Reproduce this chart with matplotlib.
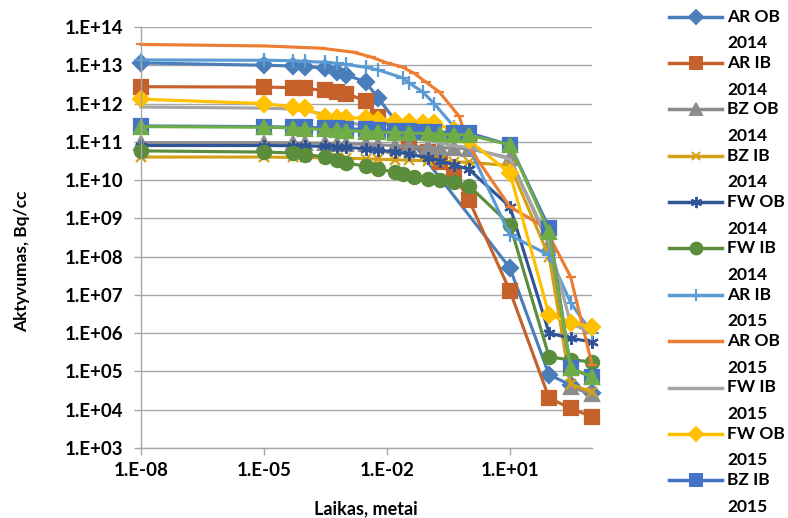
import math
import matplotlib
matplotlib.use("Agg")
import matplotlib.pyplot as plt
from matplotlib.lines import Line2D
from matplotlib.ticker import FixedLocator, FuncFormatter, NullLocator

plt.rcParams["font.family"] = ["Lato", "DejaVu Sans"]
plt.rcParams["font.weight"] = "bold"

# -----------------------------
# Data (time in years, activity in Bq/cc)
# -----------------------------
ar_ob_2014_t = [1e-8, 1e-5, 5e-5, 1e-4, 3e-4, 6e-4, 1e-3, 3e-3, 6e-3, 10, 90, 300, 1000]
ar_ob_2014_v = [1.15e13, 1.0e13, 9.6e12, 9.1e12, 8.5e12, 6.8e12, 5.6e12, 3.7e12, 1.4e12,
                5.0e7, 8.1e4, 4.5e4, 2.8e4]

ar_ib_2014_t = [1e-8, 1e-5, 5e-5, 1e-4, 3e-4, 6e-4, 1e-3, 3e-3, 6e-3, 1.6e-2, 3.4e-2,
                0.1, 0.2, 0.43, 1, 10, 90, 300, 1000]
ar_ib_2014_v = [2.75e12, 2.7e12, 2.6e12, 2.5e12, 2.2e12, 2.0e12, 1.8e12, 1.2e12, 4.5e11,
                2.0e11, 1.0e11, 5.5e10, 3.0e10, 1.35e10, 3.0e9, 1.26e7, 2.0e4, 1.1e4, 6.5e3]

grid_t = [1e-8, 1e-5, 5e-5, 1e-4, 3e-4, 6e-4, 1e-3, 3e-3, 6e-3, 1.6e-2, 3.4e-2,
          0.1, 0.2, 0.43, 1, 10, 90, 300, 1000]

bz_ob_2014_v = [9.5e10, 9.5e10, 9.4e10, 9.3e10, 9.2e10, 9.0e10, 8.9e10, 8.6e10, 8.3e10,
                8.0e10, 7.6e10, 7.2e10, 7.0e10, 6.9e10, 6.6e10, 3.8e10, 2.0e8, 4.0e4, 2.5e4]

bz_ib_2014_v = [4.0e10, 4.0e10, 3.9e10, 3.9e10, 3.8e10, 3.8e10, 3.7e10, 3.6e10, 3.5e10,
                3.4e10, 3.3e10, 3.2e10, 3.1e10, 3.0e10, 2.9e10, 2.4e10, 1.0e8, 4.7e4, 2.9e4]

fw_ob_2014_v = [8.0e10, 8.0e10, 7.9e10, 7.8e10, 7.6e10, 7.4e10, 7.2e10, 6.6e10, 6.0e10,
                5.5e10, 4.8e10, 3.8e10, 3.2e10, 2.5e10, 1.9e10, 2.0e9, 1.0e6, 7.4e5, 5.9e5]

fw_ib_2014_t = [1e-8, 1e-5, 5e-5, 1e-4, 3e-4, 6e-4, 1e-3, 3e-3, 6e-3, 1.6e-2, 2.4e-2,
                4.5e-2, 0.1, 0.2, 0.43, 1, 10, 90, 300, 1000]
fw_ib_2014_v = [5.8e10, 5.4e10, 5.1e10, 4.6e10, 4.1e10, 3.3e10, 2.8e10, 2.3e10, 1.95e10,
                1.6e10, 1.45e10, 1.2e10, 1.1e10, 1.0e10, 8.9e9, 7.1e9, 6.8e8, 2.4e5, 2.0e5, 1.8e5]

ar_ib_2015_t = [1e-8, 1e-5, 5e-5, 1e-4, 3e-4, 6e-4, 1e-3, 3e-3, 6e-3, 2.4e-2, 3.4e-2,
                7.5e-2, 0.14, 0.43, 1, 10, 90, 300, 1000]
ar_ib_2015_v = [1.38e13, 1.35e13, 1.32e13, 1.26e13, 1.2e13, 1.12e13, 1.05e13, 8.9e12, 7.6e12,
                4.7e12, 3.5e12, 2.0e12, 1.0e12, 2.5e11, 7.2e10, 3.6e8, 1.1e8, 6.3e6, 1.0e6]

ar_ob_2015_t = [1e-8, 1e-5, 2.4e-4, 1.5e-3, 4e-3, 1e-2, 2.3e-2, 4.6e-2, 8.7e-2, 0.19,
                0.58, 1, 10, 70, 300, 1000]
ar_ob_2015_v = [3.5e13, 3.2e13, 2.8e13, 2.2e13, 1.66e13, 1.15e13, 9.1e12, 6.2e12, 3.7e12,
                2.0e12, 4.6e11, 7.2e10, 2.0e9, 5.9e8, 3.0e7, 1.5e5]

fw_ib_2015_t = [1e-8, 1e-5, 5e-5, 1e-4, 3e-4, 1e-3, 3e-3, 1e-2, 4.6e-2, 0.14, 0.43, 1,
                10, 90, 300, 1000]
fw_ib_2015_v = [8.1e11, 7.6e11, 7.2e11, 6.6e11, 5.2e11, 3.5e11, 2.5e11, 1.8e11, 1.26e11,
                1.0e11, 7.9e10, 7.1e10, 3.5e10, 2.5e8, 1.8e6, 1.0e6]

fw_ob_2015_t = [1e-8, 1e-5, 5e-5, 1e-4, 3e-4, 6e-4, 1e-3, 3e-3, 6e-3, 1.6e-2, 3.4e-2,
                7.5e-2, 0.14, 0.43, 1, 10, 90, 300, 1000]
fw_ob_2015_v = [1.3e12, 1.0e12, 8.1e11, 7.6e11, 4.5e11, 4.2e11, 4.2e11, 4.2e11, 3.7e11,
                3.5e11, 3.3e11, 3.1e11, 3.1e11, 2.0e11, 1.1e11, 1.5e10, 3.0e6, 1.9e6, 1.45e6]

bz_ib_2015_t = [1e-8, 1e-5, 5e-5, 1e-4, 3e-4, 6e-4, 1e-3, 3e-3, 6e-3, 1.6e-2, 3.4e-2,
                7.5e-2, 0.14, 0.43, 1, 10, 90, 300, 1000]
bz_ib_2015_v = [2.6e11, 2.5e11, 2.4e11, 2.4e11, 2.3e11, 2.3e11, 2.2e11, 2.1e11, 2.0e11,
                1.95e11, 1.9e11, 1.85e11, 1.8e11, 1.75e11, 1.7e11, 8.3e10, 5.6e8, 1.2e5, 7.1e4]

bz_ob_2015_v = [2.5e11, 2.4e11, 2.3e11, 2.2e11, 2.1e11, 2.0e11, 1.95e11, 1.85e11, 1.8e11,
                1.75e11, 1.7e11, 1.65e11, 1.6e11, 1.55e11, 1.5e11, 8.3e10, 4.4e8, 1.2e5, 7.3e4]

x_ticks = [1e-8, 1e-5, 1e-2, 1e1]
y_ticks = [10.0 ** k for k in range(3, 15)]

# label, times, values, color, marker, markersize, shown in legend
series = [
    ("AR OB 2014", ar_ob_2014_t, ar_ob_2014_v, "#4a7ebb", "D", 8, True),
    ("AR IB 2014", ar_ib_2014_t, ar_ib_2014_v, "#c5612b", "s", 9.5, True),
    ("BZ OB 2014", grid_t, bz_ob_2014_v, "#8c8c8c", "^", 9.5, True),
    ("BZ IB 2014", grid_t, bz_ib_2014_v, "#d4a017", "x", 7, True),
    ("FW OB 2014", grid_t, fw_ob_2014_v, "#2f5597", (6, 2, 0), 9, True),
    ("FW IB 2014", fw_ib_2014_t, fw_ib_2014_v, "#5a8d3c", "o", 9.5, True),
    ("AR IB 2015", ar_ib_2015_t, ar_ib_2015_v, "#5b9bd5", "+", 10, True),
    ("AR OB 2015", ar_ob_2015_t, ar_ob_2015_v, "#ed7d31", "_", 7, True),
    ("FW IB 2015", fw_ib_2015_t, fw_ib_2015_v, "#a5a5a5", None, 0, True),
    ("FW OB 2015", fw_ob_2015_t, fw_ob_2015_v, "#ffc000", "D", 8, True),
    ("BZ IB 2015", bz_ib_2015_t, bz_ib_2015_v, "#4472c4", "s", 9.5, True),
    ("BZ OB 2015", grid_t, bz_ob_2015_v, "#70ad47", "^", 9.5, False),
]

W, H = 788, 518
fig = plt.figure(figsize=(W / 100, H / 100), dpi=100)
ax = fig.add_axes([141 / W, 1 - 448 / H, (592 - 141) / W, (448 - 27) / H])

for label, t, v, color, marker, ms, _ in series:
    ax.plot(t, v, color=color, lw=2.25, marker=marker, markersize=ms,
            markeredgewidth=1.6, clip_on=False, solid_joinstyle="round")

ax.set_xscale("log")
ax.set_yscale("log")
ax.set_xlim(1e-8, 1e3)
ax.set_ylim(1e3, 1e14)

ax.xaxis.set_major_locator(FixedLocator(x_ticks))
ax.xaxis.set_minor_locator(NullLocator())
ax.yaxis.set_major_locator(FixedLocator(y_ticks))
ax.yaxis.set_minor_locator(NullLocator())
fmt = FuncFormatter(lambda val, pos: "1.E{:+03d}".format(int(round(math.log10(val)))))
ax.xaxis.set_major_formatter(fmt)
ax.yaxis.set_major_formatter(fmt)

ax.yaxis.grid(True, color="#a6a6a6", lw=1)
ax.set_axisbelow(True)
for side in ["top", "right"]:
    ax.spines[side].set_visible(False)
for side in ["left", "bottom"]:
    ax.spines[side].set_color("#a6a6a6")
    ax.spines[side].set_linewidth(1)
ax.tick_params(axis="both", colors="#a6a6a6", labelcolor="black", length=5,
               width=1, labelsize=13.5)
ax.tick_params(axis="y", pad=8)
ax.tick_params(axis="x", pad=5)

fig.text(366 / W, 1 - 509 / H, "Laikas, metai", ha="center", va="center", fontsize=13)
fig.text(22 / W, 1 - 261 / H, "Aktyvumas, Bq/cc", ha="center", va="center",
         rotation=90, fontsize=12.5)

# -----------------------------
# Legend (names wrap onto two lines)
# -----------------------------
legend_entries = [s for s in series if s[6]]
for i, (label, t, v, color, marker, ms, _) in enumerate(legend_entries):
    y = 16.7 + 46.35 * i
    yf = 1 - y / H
    handle = Line2D([669 / W, 695.5 / W, 722 / W], [yf, yf, yf], transform=fig.transFigure,
                    color=color, lw=2.5, marker=marker, markersize=ms * 0.9,
                    markeredgewidth=1.4, markevery=[1])
    fig.add_artist(handle)
    name, year = label.rsplit(" ", 1)
    fig.text(727 / W, yf, name, ha="left", va="center", fontsize=12.5)
    fig.text(727 / W, 1 - (y + 26.6) / H, year, ha="left", va="center", fontsize=12.5)

fig.savefig("out.png", dpi=100)
